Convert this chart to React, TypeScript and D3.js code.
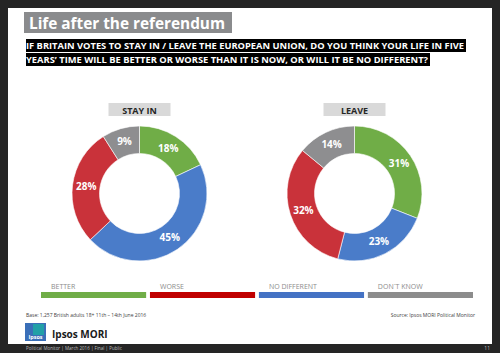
import { useEffect, useRef } from 'react';
import * as d3 from 'd3';

const categories = ['BETTER', 'NO DIFFERENT', 'WORSE', 'DON´T KNOW'];
const stayInValues = [18, 45, 28, 9];
const leaveValues = [31, 23, 32, 14];
const groups = ['STAY IN', 'LEAVE'];
const legendOrder = ['BETTER', 'WORSE', 'NO DIFFERENT', 'DON´T KNOW'];

const sliceColors: Record<string, string> = {
  'BETTER': '#70ad47',
  'NO DIFFERENT': '#4a7cc9',
  'WORSE': '#c9323a',
  'DON´T KNOW': '#8e8e90',
};
const legendColors: Record<string, string> = {
  'BETTER': '#70ad47',
  'NO DIFFERENT': '#4472c4',
  'WORSE': '#c00000',
  'DON´T KNOW': '#8c8c8c',
};

const W = 500;
const H = 353;
const font = 'Open Sans, "DejaVu Sans", sans-serif';

export default function App() {
  const svgRef = useRef<SVGSVGElement>(null);

  useEffect(() => {
    if (!svgRef.current) return;
    const svg = d3.select(svgRef.current);
    svg.selectAll('*').remove();

    svg.append('rect').attr('width', W).attr('height', H).attr('fill', '#252525');
    svg.append('rect').attr('x', 8).attr('y', 8).attr('width', 484).attr('height', 336).attr('fill', '#ffffff');

    // title
    svg.append('rect').attr('x', 24).attr('y', 12).attr('width', 208).attr('height', 21).attr('fill', '#8a8b8d');
    svg.append('text')
      .attr('x', 29).attr('y', 28.5)
      .attr('textLength', 196).attr('lengthAdjust', 'spacingAndGlyphs')
      .style('font-family', font).style('font-size', '16px').style('font-weight', 'bold')
      .attr('fill', '#ffffff')
      .text('Life after the referendum');

    // question
    const qLines = [
      { text: 'IF BRITAIN VOTES TO STAY  IN / LEAVE THE EUROPEAN UNION, DO YOU THINK YOUR LIFE IN FIVE', w: 440, y: 39 },
      { text: 'YEARS\u2019 TIME WILL BE BETTER  OR WORSE THAN IT IS NOW, OR WILL IT BE NO DIFFERENT?', w: 404, y: 53 },
    ];
    qLines.forEach(l => {
      svg.append('rect').attr('x', 26).attr('y', l.y).attr('width', l.w).attr('height', 13).attr('fill', '#000000');
      svg.append('text')
        .attr('x', 26).attr('y', l.y + 10)
        .attr('textLength', l.w - 2).attr('lengthAdjust', 'spacingAndGlyphs')
        .style('font-family', font).style('font-size', '9.5px').style('font-weight', 'bold')
        .attr('fill', '#ffffff')
        .text(l.text);
    });

    // donuts
    const x = d3.scalePoint<string>().domain(groups).range([139.5, 354.5]);
    const cy = 193.5;
    const outerR = 67.5;
    const innerR = 40;
    const pie = d3.pie<number>().sort(null).value(d => d);
    const arc = d3.arc<d3.PieArcDatum<number>>().innerRadius(innerR).outerRadius(outerR);

    [stayInValues, leaveValues].forEach((vals, gi) => {
      const cx = x(groups[gi]) || 0;
      svg.append('rect').attr('x', cx - 31).attr('y', 103).attr('width', 62).attr('height', 13).attr('fill', '#d9d9d9');
      svg.append('text')
        .attr('x', cx).attr('y', 113.5).attr('text-anchor', 'middle')
        .style('font-family', font).style('font-size', '9px').style('font-weight', 'bold')
        .attr('fill', '#262626')
        .text(groups[gi]);

      const g = svg.append('g').attr('transform', `translate(${cx},${cy})`);
      const arcs = pie(vals);
      g.selectAll('path')
        .data(arcs)
        .join('path')
        .attr('d', arc)
        .attr('fill', (d, i) => sliceColors[categories[i]])
        .attr('stroke', '#ffffff')
        .attr('stroke-width', 0.6);
      g.selectAll('text')
        .data(arcs)
        .join('text')
        .attr('transform', d => `translate(${arc.centroid(d)})`)
        .attr('text-anchor', 'middle')
        .attr('dy', '0.35em')
        .style('font-family', font).style('font-size', '10px').style('font-weight', 'bold')
        .attr('fill', '#ffffff')
        .text(d => `${d.data}%`);
    });

    // legend
    const lx = d3.scaleBand<string>().domain(legendOrder).range([41, 473]).paddingInner(0.035);
    legendOrder.forEach(c => {
      const bx = lx(c) || 0;
      svg.append('rect').attr('x', bx).attr('y', 292).attr('width', lx.bandwidth()).attr('height', 6).attr('fill', legendColors[c]);
      svg.append('text')
        .attr('x', bx + 10).attr('y', 289)
        .style('font-family', font).style('font-size', '7px')
        .attr('fill', '#8c8c8c')
        .text(c);
    });

    // footnotes
    svg.append('text')
      .attr('x', 26).attr('y', 317)
      .style('font-family', font).style('font-size', '5px')
      .attr('fill', '#404040')
      .text('Base: 1,257 British adults 18+ 11th \u2013 14th June 2016');
    svg.append('text')
      .attr('x', 475).attr('y', 317).attr('text-anchor', 'end')
      .style('font-family', font).style('font-size', '5px')
      .attr('fill', '#404040')
      .text('Source: Ipsos MORI Political Monitor');

    // logo
    svg.append('rect').attr('x', 25).attr('y', 323).attr('width', 21).attr('height', 18).attr('fill', '#3a6fb8');
    svg.append('path').attr('d', 'M33,324 h11 v11 h-11 z').attr('fill', '#1fa9a3').attr('opacity', 0.85);
    svg.append('text')
      .attr('x', 35.5).attr('y', 339).attr('text-anchor', 'middle')
      .style('font-family', font).style('font-size', '5.5px').style('font-weight', 'bold')
      .attr('fill', '#ffffff')
      .text('Ipsos');
    svg.append('text')
      .attr('x', 52).attr('y', 337.5)
      .style('font-family', font).style('font-size', '10px').style('font-weight', 'bold')
      .attr('fill', '#1a1a1a')
      .text('Ipsos MORI');

    // page footer
    svg.append('text')
      .attr('x', 26).attr('y', 350)
      .style('font-family', font).style('font-size', '4.5px')
      .attr('fill', '#bfbfbf')
      .text('Political Monitor | March 2016 | Final | Public');
    svg.append('text')
      .attr('x', 490).attr('y', 350).attr('text-anchor', 'end')
      .style('font-family', font).style('font-size', '5px')
      .attr('fill', '#bfbfbf')
      .text('11');
  }, []);

  return (
    <div style={{ position: 'fixed', left: 0, top: 0, width: W, height: H }}>
      <svg ref={svgRef} width={W} height={H} style={{ display: 'block' }}></svg>
    </div>
  );
}
